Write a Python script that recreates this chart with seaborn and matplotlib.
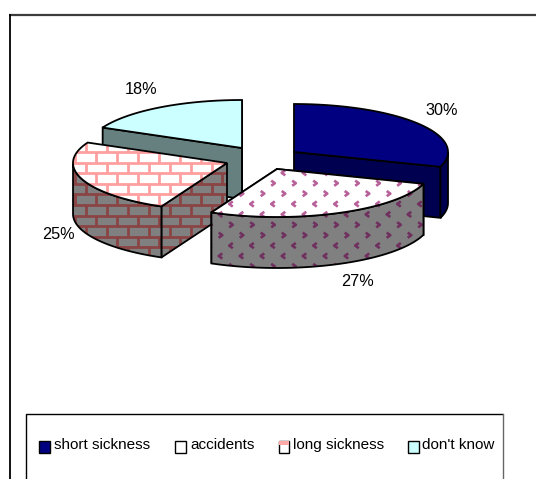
import numpy as np
import matplotlib
matplotlib.use("Agg")
import matplotlib.pyplot as plt
from matplotlib.patches import Polygon, Rectangle
from matplotlib.collections import LineCollection
import seaborn as sns

categories = ["short sickness", "accidents", "long sickness", "don't know"]
shares = [30, 27, 25, 18]
top_colors = ["#000080", "#ffffff", "#ffffff", "#ccffff"]
wall_colors = ["#000050", "#808080", "#808080", "#668080"]
pattern_top = [None, "#b8609a", "#ff9f9f", None]
pattern_wall = [None, "#70305f", "#8a4444", None]
apexes = [(294, 152), (277, 169), (227, 163), (242, 148)]
label_pos = [(442, 110), (358, 282), (58, 234), (141, 89)]

RX, RY, DEPTH = 154, 48, 51

sns.set_theme(style="white")
plt.rcParams["font.family"] = ["Liberation Sans", "DejaVu Sans"]

fig = plt.figure(figsize=(5.36, 4.79), dpi=100)
ax = fig.add_axes([0, 0, 1, 1])
ax.set_xlim(0, 536)
ax.set_ylim(479, 0)
ax.axis("off")

# outer chart frame: open on the right and at the bottom
ax.plot([9, 536], [14.5, 14.5], color="#3c3c3c", lw=1.6, solid_capstyle="butt", zorder=1)
ax.plot([9.5, 9.5], [14, 479], color="black", lw=1.3, solid_capstyle="butt", zorder=1)


def rim(apex, a0, a1, n=80):
    t = np.radians(np.linspace(a0, a1, n))
    return np.column_stack([apex[0] + RX * np.sin(t), apex[1] - RY * np.cos(t)])


def bricks():
    segs = []
    for i, y in enumerate(np.arange(56.6, 300, 10.6)):
        segs.append([(0, y), (536, y)])
        off = 12 if i % 2 else 2
        for x in np.arange(off, 536, 21):
            segs.append([(x, y), (x, y + 10.6)])
    return segs


def chevrons():
    segs = []
    for i, y in enumerate(np.arange(100, 290, 10.4)):
        off = 10.5 if i % 2 else 0
        flip = 1 if i % 4 < 2 else -1
        for x in np.arange(off, 536, 21):
            segs.append([(x - 1.8 * flip, y - 2.6), (x + 1.8 * flip, y), (x - 1.8 * flip, y + 2.6)])
    return segs


def face(points, fc, pattern=None, kind=None, z=2):
    poly = Polygon(points, closed=True, fc=fc, ec="none", zorder=z)
    ax.add_patch(poly)
    if pattern is not None:
        if kind == "brick":
            lc = LineCollection(bricks(), colors=pattern, linewidths=2.0, zorder=z)
        else:
            lc = LineCollection(chevrons(), colors=pattern, linewidths=1.9, zorder=z)
        ax.add_collection(lc)
        lc.set_clip_path(poly)
    ax.add_patch(Polygon(points, closed=True, fc="none", ec="black", lw=1.3, zorder=z))


bounds = np.cumsum([0] + shares) * 3.6
kinds = [None, "chevron", "brick", None]
down = np.array([0, DEPTH])

# back-to-front drawing order for the separated wedges
for idx, z in [(3, 2), (2, 3), (0, 4), (1, 5)]:
    a0, a1 = bounds[idx], bounds[idx + 1]
    apex = np.array(apexes[idx], float)
    arc = rim(apex, a0, a1)

    # flat cut faces running from the wedge centre to its two rim corners
    for corner in (arc[0], arc[-1]):
        if corner[1] >= apex[1] - 1 or idx == 3:
            quad = [apex, corner, corner + down, apex + down]
            face(quad, wall_colors[idx], pattern_wall[idx], kinds[idx], z)

    # curved outer wall, only where the rim faces the viewer
    t = np.linspace(a0, a1, 80)
    lower = np.cos(np.radians(t)) < 0
    if lower.any():
        band = arc[lower]
        face(np.vstack([band, band[::-1] + down]), wall_colors[idx], pattern_wall[idx], kinds[idx], z)

    face(np.vstack([apex, arc]), top_colors[idx], pattern_top[idx], kinds[idx], z)

for (x, y), s in zip(label_pos, shares):
    ax.text(x, y, f"{s}%", fontsize=11.7, ha="center", va="center", color="black", zorder=8)

# legend box, running past the lower edge of the figure
ax.add_patch(Rectangle((25.5, 413.5), 477, 80, fc="white", ec="none", zorder=9))
ax.plot([25.5, 25.5, 502.5], [480, 413.5, 413.5], color="black", lw=1.0, zorder=10)
ax.plot([502.5, 502.5], [413.5, 480], color="#666666", lw=1.0, zorder=10)
key_x = [39, 175, 278.5, 408]
text_x = [54, 190, 293, 422]
key_colors = ["#000080", "#ffffff", "#ffffff", "#ccffff"]
for kx, tx, name, col in zip(key_x, text_x, categories, key_colors):
    ax.add_patch(Rectangle((kx, 440.5), 10.5, 12, fc=col, ec="black", lw=1.0, zorder=10))
    ax.text(tx, 445, name, fontsize=11, ha="left", va="center", color="black", zorder=10)
ax.add_patch(Rectangle((279, 441), 9.5, 4, fc="#ffa8a8", ec="none", zorder=11))

fig.savefig("out.png", dpi=100)
